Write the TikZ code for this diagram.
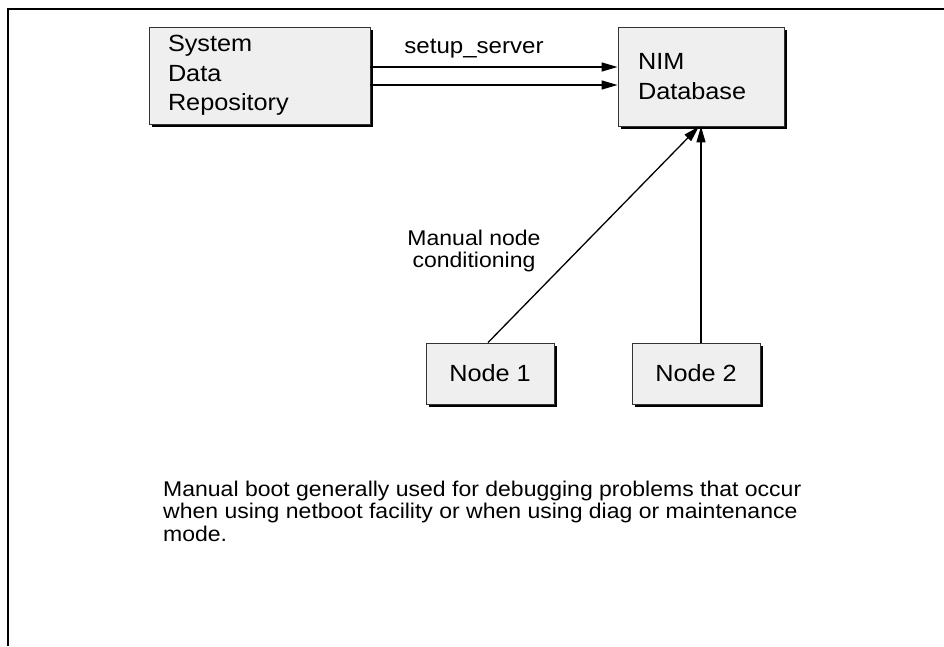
\documentclass[tikz,border=0pt]{standalone}
\usepackage{fontspec}
\setmainfont{Liberation Sans}[FakeStretch=1.08]
\usetikzlibrary{arrows.meta,shadows}
\definecolor{boxfill}{HTML}{EFEFEF}
\definecolor{boxline}{HTML}{333333}
\begin{document}
\begin{tikzpicture}[x=1pt,y=-1pt,
  box/.style={draw=boxline, line width=0.9pt, fill=boxfill,
    drop shadow={shadow xshift=3pt, shadow yshift=-3pt, fill=black, opacity=1},
    font=\fontsize{23.4}{29.5}\selectfont},
  conn/.style={line width=1.3pt, -{Triangle[length=16pt,width=9pt]}},
  lbl/.style={font=\fontsize{21.3}{22.5}\selectfont, inner sep=0pt}]
\useasboundingbox (0,0) rectangle (944,646);
% frame
\draw[line width=1.3pt] (8,646) -- (8,9) -- (944,9);
% boxes
\node[box, minimum width=221pt, minimum height=97pt, text width=183pt, inner xsep=19pt, align=left] (sdr) at (259.5,75.5) {System\\Data\\Repository};
\node[box, minimum width=166pt, minimum height=99pt, text width=126pt, inner xsep=20pt, align=left] (nim) at (701,76.5) {NIM\\Database};
\node[box, minimum width=128pt, minimum height=61pt] (n1) at (490,373.5) {Node 1};
\node[box, minimum width=128pt, minimum height=61pt] (n2) at (696,373.5) {Node 2};
% connectors
\draw[conn] ([yshift=8.5pt]sdr.east) -- ([yshift=8.5pt]sdr.east -| nim.west);
\draw[conn] ([yshift=-9.5pt]sdr.east) -- ([yshift=-9.5pt]sdr.east -| nim.west);
\draw[conn] ([xshift=-2pt]n1.north) -- ([xshift=-2pt]nim.south);
\draw[conn] (n2.north -| nim.south) -- (nim.south);
% labels
\node[lbl, anchor=base, font=\fontsize{22.3}{24}\selectfont] (setup) at (474,53) {setup\_server};
\node[lbl, align=center] (cond) at (474,251) {Manual node\\conditioning};
\node[lbl, align=left, anchor=west] (note) at (163,511) {Manual boot generally used for debugging problems that occur\\when using netboot facility or when using diag or maintenance\\mode.};
\end{tikzpicture}
\end{document}
